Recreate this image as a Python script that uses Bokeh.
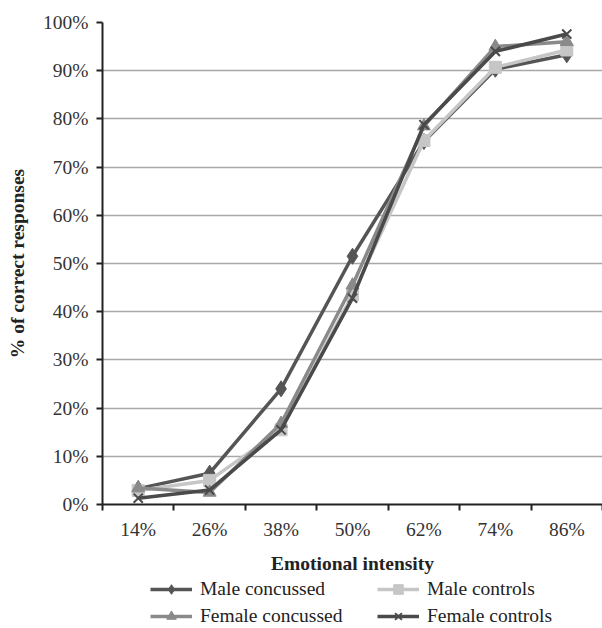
from bokeh.plotting import figure
from bokeh.layouts import column
from bokeh.models import FixedTicker, PrintfTickFormatter, Legend, LegendItem
from bokeh.embed import file_html
from bokeh.resources import INLINE

categories = ["14%", "26%", "38%", "50%", "62%", "74%", "86%"]
male_concussed = [3.3, 6.5, 24.0, 51.5, 75.3, 90.3, 93.3]
male_controls = [2.9, 5.0, 15.5, 43.5, 75.5, 90.7, 94.3]
female_concussed = [3.4, 2.5, 16.8, 45.5, 78.5, 95.0, 96.0]
female_controls = [1.3, 3.0, 15.5, 42.8, 78.8, 94.0, 97.6]
y_ticks = [0, 10, 20, 30, 40, 50, 60, 70, 80, 90, 100]

FONT = "Liberation Serif"
FS = "19.5px"
xs = [i + 0.5 for i in range(len(categories))]

p = figure(width=602, height=577, output_backend="svg", toolbar_location=None,
           x_range=(0, len(categories)), y_range=(0, 100),
           min_border_left=102, min_border_right=0, min_border_top=22, min_border_bottom=73)
p.outline_line_color = None
p.xgrid.grid_line_color = None
p.ygrid.grid_line_color = "#a8a8a8"
p.ygrid.grid_line_width = 1.5
p.ygrid.ticker = FixedTicker(ticks=y_ticks)

# x axis
p.xaxis.ticker = FixedTicker(ticks=xs, minor_ticks=list(range(len(categories) + 1)))
p.xaxis.major_label_overrides = {x: c for x, c in zip(xs, categories)}
p.xaxis.major_tick_out = 0
p.xaxis.major_tick_in = 0
p.xaxis.minor_tick_out = 6
p.xaxis.minor_tick_in = 0
p.xaxis.minor_tick_line_width = 2
p.xaxis.minor_tick_line_color = "#222222"
p.xaxis.axis_label = "Emotional intensity"
p.xaxis.major_label_standoff = 8
p.xaxis.axis_label_standoff = 10

# y axis
p.yaxis.ticker = FixedTicker(ticks=y_ticks)
p.yaxis.formatter = PrintfTickFormatter(format="%d%%")
p.yaxis.major_tick_out = 6
p.yaxis.major_tick_in = 0
p.yaxis.minor_tick_out = 0
p.yaxis.minor_tick_in = 0
p.yaxis.major_tick_line_width = 2
p.yaxis.major_tick_line_color = "#222222"
p.yaxis.axis_label = "% of correct responses"
p.yaxis.major_label_standoff = 8
p.yaxis.axis_label_standoff = 12

for ax in (p.xaxis, p.yaxis):
    ax.axis_line_color = "#222222"
    ax.axis_line_width = 2
    ax.major_label_text_font = FONT
    ax.major_label_text_font_size = FS
    ax.major_label_text_color = "#333333"
    ax.axis_label_text_font = FONT
    ax.axis_label_text_font_size = FS
    ax.axis_label_text_font_style = "bold"
    ax.axis_label_text_color = "#222222"

series = [
    ("Male concussed", male_concussed, "#555555", "diamond", 16),
    ("Male controls", male_controls, "#c6c6c6", "square", 12),
    ("Female concussed", female_concussed, "#8a8a8a", "triangle", 13),
    ("Female controls", female_controls, "#4a4a4a", "x", 13),
]

# legend figure placed below the chart
lf = figure(width=602, height=51, output_backend="svg", toolbar_location=None,
            x_range=(0, len(categories)), y_range=(0, 100),
            min_border_left=0, min_border_right=0, min_border_top=0, min_border_bottom=0)
lf.axis.visible = False
lf.grid.visible = False
lf.outline_line_color = None

items = {}
for name, vals, col, marker, size in series:
    p.line(xs, vals, line_color=col, line_width=3.5)
    l1 = lf.line(xs, vals, line_color=col, line_width=3.5, visible=False)
    if marker == "x":
        p.scatter(xs, vals, marker=marker, size=size, line_color=col, line_width=2)
        l2 = lf.scatter(xs, vals, marker=marker, size=size, line_color=col, line_width=2, visible=False)
    else:
        p.scatter(xs, vals, marker=marker, size=size, fill_color=col, line_color=col)
        l2 = lf.scatter(xs, vals, marker=marker, size=size, fill_color=col, line_color=col, visible=False)
    items[name] = LegendItem(label=name, renderers=[l1, l2])

# column-major fill: column 1 = Male concussed / Female concussed
legend_order = ["Male concussed", "Female concussed", "Male controls", "Female controls"]
legend = Legend(items=[items[n] for n in legend_order], ncols=2, nrows=2,
                orientation="vertical", location=(48, 0),
                label_text_font=FONT, label_text_font_size=FS,
                label_text_color="#222222",
                glyph_width=42, glyph_height=24, label_height=18, label_width=174,
                label_standoff=8, spacing=3, padding=0, margin=0,
                border_line_color=None, background_fill_alpha=0)
lf.add_layout(legend, "center")

layout = column(p, lf, spacing=0)
open("out.html", "w").write(file_html(layout, INLINE))
